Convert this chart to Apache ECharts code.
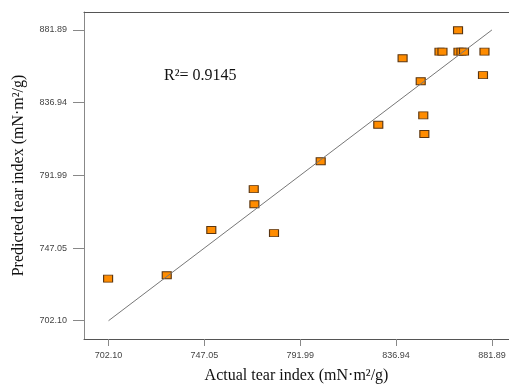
<!DOCTYPE html>
<html>
<head>
<meta charset="utf-8">
<script src="https://cdn.jsdelivr.net/npm/echarts@6/dist/echarts.min.js"></script>
<style>html,body{margin:0;padding:0;background:#fff}#c{width:509px;height:385px}</style>
</head>
<body>
<div id="c"></div>
<script>
const actual = [701.9, 729.4, 750.3, 770.2, 770.5, 779.7, 801.6, 828.6, 849.7, 850.2, 848.5, 840.0, 857.3, 858.7, 866.0, 866.2, 867.6, 868.8, 878.4, 877.7];
const predicted = [728.1, 730.2, 758.2, 783.5, 774.1, 756.3, 800.7, 823.3, 829.1, 817.6, 850.2, 864.4, 868.5, 868.5, 881.7, 868.5, 868.5, 868.5, 868.5, 854.0];
const tickValues = [702.10, 747.05, 791.99, 836.94, 881.89];
const fitX = [702.10, 881.89];
const fitY = [702.10, 881.89];

const points = actual.map((v, i) => [v, predicted[i]]);
const fitLine = fitX.map((v, i) => [v, fitY[i]]);

const chart = echarts.init(document.getElementById('c'), null, {renderer: 'canvas'});
const labelStyle = {fontFamily: 'Liberation Sans, Arial', fontSize: 9, color: '#444'};
chart.setOption({
  backgroundColor: '#fff',
  animation: false,
  grid: {left: 84, top: 12, right: 0, bottom: 46, containLabel: false, outerBoundsMode: 'none'},
  xAxis: [{
    type: 'value', min: 690.6, max: 889.9,
    splitLine: {show: false},
    axisLine: {show: true, onZero: false, lineStyle: {color: '#555', width: 1}},
    axisTick: {show: true, length: 7, customValues: tickValues, lineStyle: {color: '#888'}},
    axisLabel: Object.assign({margin: 12, customValues: tickValues, formatter: v => v.toFixed(2)}, labelStyle),
    name: 'Actual tear index (mN·m²/g)',
    nameLocation: 'middle', nameGap: 29,
    nameTextStyle: {fontFamily: 'Liberation Serif, Times New Roman', fontSize: 16, color: '#111'}
  }, {
    type: 'value', position: 'top', min: 690.6, max: 889.9,
    splitLine: {show: false},
    axisLine: {show: true, onZero: false, lineStyle: {color: '#555', width: 1}},
    axisTick: {show: false}, axisLabel: {show: false}
  }],
  yAxis: {
    type: 'value', min: 690.8, max: 893.0,
    splitLine: {show: false},
    axisLine: {show: true, onZero: false, lineStyle: {color: '#888', width: 1}},
    axisTick: {show: true, length: 11, customValues: tickValues, lineStyle: {color: '#888'}},
    axisLabel: Object.assign({margin: 17, customValues: tickValues, formatter: v => v.toFixed(2)}, labelStyle),
    name: 'Predicted tear index (mN·m²/g)',
    nameLocation: 'middle', nameGap: 57,
    nameTextStyle: {fontFamily: 'Liberation Serif, Times New Roman', fontSize: 16, color: '#111'}
  },
  graphic: [{
    type: 'text', left: 164, top: 68,
    style: {text: 'R²= 0.9145', fontFamily: 'Liberation Serif, Times New Roman', fontSize: 16, fill: '#111'}
  }],
  series: [{
    type: 'scatter', data: points, symbol: 'rect', symbolSize: [9, 7], z: 2,
    itemStyle: {color: '#FF8C00', borderColor: '#5a3510', borderWidth: 1, opacity: 1}
  }, {
    type: 'line', data: fitLine, showSymbol: false, symbol: 'none', z: 3,
    lineStyle: {color: '#777', width: 1}
  }]
});
</script>
</body>
</html>
